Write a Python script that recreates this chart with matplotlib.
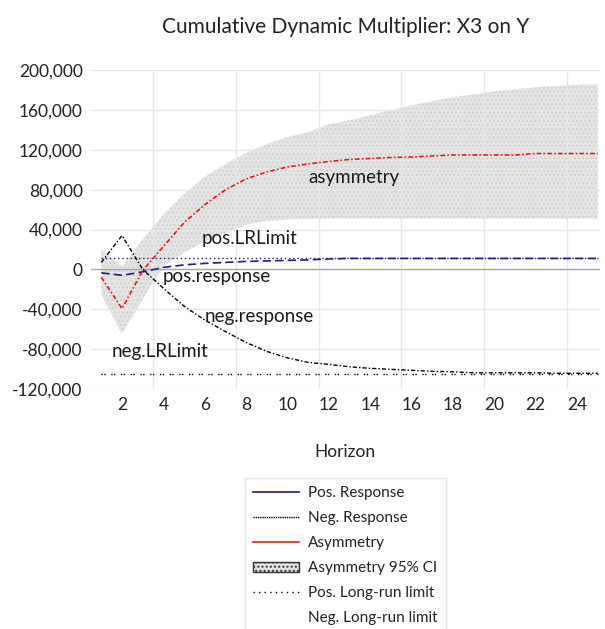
import matplotlib
matplotlib.use("Agg")
import matplotlib.pyplot as plt
from matplotlib.lines import Line2D
from matplotlib.patches import Patch
from matplotlib.ticker import FuncFormatter

plt.rcParams['font.family'] = ['Lato', 'DejaVu Sans']

horizon = list(range(1, 26))
pos_response = [-3500, -6000, -2500, 2000, 4500, 6000, 7000, 8000, 8500, 9000,
                9500, 10500, 11000, 11000, 11000, 11000, 11000, 11000, 11000, 11000,
                11000, 11000, 11000, 11000, 11000]
neg_response = [7000, 34000, 0, -19000, -37000, -51000, -62500, -73500, -82500, -89000,
                -93500, -95500, -98000, -99500, -100500, -101500, -102500, -103000, -104000, -104000,
                -104000, -104000, -104500, -104500, -104500]
asymmetry = [-8000, -39500, -1000, 23000, 47000, 65000, 80000, 91000, 98000, 103000,
             106000, 108500, 110500, 111500, 112500, 113000, 114000, 115000, 115000, 115000,
             115000, 116500, 116500, 116500, 116500]
ci_upper = [20000, 3000, 30000, 55000, 76000, 93000, 106000, 117000, 126000, 133000,
            138000, 146000, 150000, 155000, 160000, 165000, 169000, 173000, 176000, 179000,
            181000, 183000, 184500, 185500, 186000]
ci_lower = [-25000, -65000, -30000, 3000, 17000, 28000, 36000, 45000, 49000, 50000,
            51000, 51000, 51000, 51000, 51000, 51000, 51000, 51000, 51000, 51000,
            51000, 51000, 51000, 51000, 51000]
pos_lr_limit = 11000
neg_lr_limit = -105000

yticks = [-120000, -80000, -40000, 0, 40000, 80000, 120000, 160000, 200000]
xticks = list(range(2, 25, 2))

fig = plt.figure(figsize=(6.05, 6.29), dpi=100)
ax = fig.add_axes([0.1504, 0.382, 0.841, 0.506])

navy = '#1c1c8a'

# CI band
ax.fill_between(horizon, ci_lower, ci_upper, facecolor='#e4e4e4', edgecolor='#d2d2d2',
                hatch='....', linewidth=0, zorder=1)

ax.plot([horizon[0], horizon[-1]], [pos_lr_limit, pos_lr_limit], color=navy, lw=1,
        dashes=(1, 2), zorder=3)
ax.plot([horizon[0], horizon[-1]], [neg_lr_limit, neg_lr_limit], color='black', lw=1,
        dashes=(1, 1, 1, 4), zorder=3)
ax.plot(horizon, pos_response, color=navy, lw=1.2, dashes=(5, 2.5), zorder=4)
ax.plot(horizon, neg_response, color='black', lw=1, dashes=(3, 1.5, 1, 1.5), zorder=4)
ax.plot(horizon, asymmetry, color='red', lw=1.1, dashes=(3, 1.5, 1, 1.5), zorder=5)

# labels on the lines
lab = dict(fontsize=13.5, color='#1a1a1a', va='center', ha='left', zorder=6)
ax.text(11.0, 92000, 'asymmetry', **lab)
ax.text(5.86, 31400, 'pos.LRLimit', **lab)
ax.text(3.96, -7400, 'pos.response', **lab)
ax.text(6.0, -47600, 'neg.response', **lab)
ax.text(1.49, -82800, 'neg.LRLimit', **lab)

ax.set_xlim(0.5, 25.1)
ax.set_ylim(-120000, 200000)
ax.set_yticks(yticks)
ax.yaxis.set_major_formatter(FuncFormatter(lambda v, p: f"{v:,.0f}"))
ax.set_xticks(xticks)
ax.set_xticks([3.5, 7.5, 11.5, 15.5, 19.5, 23.5], minor=True)
ax.tick_params(axis='both', which='both', length=0, labelsize=12.5, colors='#222222')
ax.tick_params(axis='y', pad=6)
ax.tick_params(axis='x', pad=6)
ax.grid(axis='y', which='major', color='#e6e6e6', lw=1, zorder=0)
ax.grid(axis='x', which='minor', color='#e6e6e6', lw=1, zorder=0)
ax.axhline(0, color='#a8a8a8', lw=1, zorder=2)
for s in ax.spines.values():
    s.set_visible(False)

ax.set_title('Cumulative Dynamic Multiplier: X3 on Y', fontsize=15, color='#222222', pad=27)
ax.set_xlabel('Horizon', fontsize=12.5, color='#222222', labelpad=22)

handles = [
    Line2D([], [], color=navy, lw=1.2),
    Line2D([], [], color='black', lw=1, dashes=(1, 0.6)),
    Line2D([], [], color='red', lw=1.1),
    Patch(facecolor='#e4e4e4', edgecolor='#333333', hatch='....', lw=1),
    Line2D([], [], color='black', lw=1, dashes=(1, 3)),
    Line2D([], [], linestyle='none'),
]
labels = ['Pos. Response', 'Neg. Response', 'Asymmetry', 'Asymmetry 95% CI',
          'Pos. Long-run limit', 'Neg. Long-run limit']
leg = fig.legend(handles, labels, loc='upper left', bbox_to_anchor=(0.405, 0.24),
                 fontsize=11, frameon=True, fancybox=False, edgecolor='#dddddd',
                 handlelength=3.0, handletextpad=0.6, labelspacing=0.72,
                 borderpad=0.55, borderaxespad=0)
for t in leg.get_texts():
    t.set_color('#222222')

fig.savefig('out.png', dpi=100)
